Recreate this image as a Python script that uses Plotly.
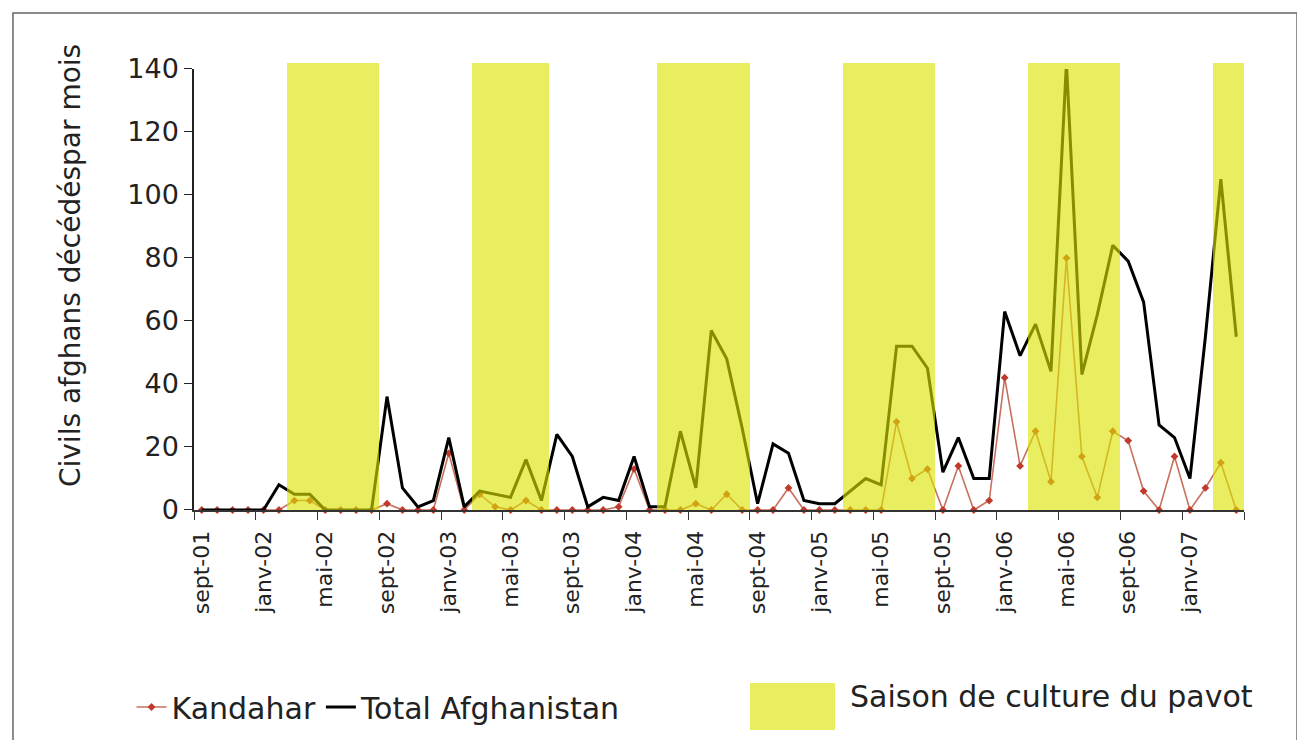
"""
Civils afghans décédés par mois : Kandahar vs total Afghanistan,
avec les saisons de culture du pavot en fond.
"""
import plotly.graph_objects as go

# --- Données ---

mois = [
    "sept-01", "oct-01", "nov-01", "déc-01",
    "janv-02", "févr-02", "mars-02", "avr-02", "mai-02", "juin-02", "juil-02", "août-02",
    "sept-02", "oct-02", "nov-02", "déc-02",
    "janv-03", "févr-03", "mars-03", "avr-03", "mai-03", "juin-03", "juil-03", "août-03",
    "sept-03", "oct-03", "nov-03", "déc-03",
    "janv-04", "févr-04", "mars-04", "avr-04", "mai-04", "juin-04", "juil-04", "août-04",
    "sept-04", "oct-04", "nov-04", "déc-04",
    "janv-05", "févr-05", "mars-05", "avr-05", "mai-05", "juin-05", "juil-05", "août-05",
    "sept-05", "oct-05", "nov-05", "déc-05",
    "janv-06", "févr-06", "mars-06", "avr-06", "mai-06", "juin-06", "juil-06", "août-06",
    "sept-06", "oct-06", "nov-06", "déc-06",
    "janv-07", "févr-07", "mars-07", "avr-07",
]

total_afghanistan = [
    0, 0, 0, 0,
    0, 8, 5, 5, 0, 0, 0, 0, 36, 7, 1, 3,
    23, 1, 6, 5, 4, 16, 3, 24, 17, 1, 4, 3,
    17, 1, 1, 25, 7, 57, 48, 26, 2, 21, 18, 3,
    2, 2, 6, 10, 8, 52, 52, 45, 12, 23, 10, 10,
    63, 49, 59, 44, 142, 43, 62, 84, 79, 66, 27, 23,
    10, 55, 105, 55,
]

kandahar = [
    0, 0, 0, 0,
    0, 0, 3, 3, 0, 0, 0, 0, 2, 0, 0, 0,
    18, 0, 5, 1, 0, 3, 0, 0, 0, 0, 0, 1,
    13, 0, 0, 0, 2, 0, 5, 0, 0, 0, 7, 0,
    0, 0, 0, 0, 0, 28, 10, 13, 0, 14, 0, 3,
    42, 14, 25, 9, 80, 17, 4, 25, 22, 6, 0, 17,
    0, 7, 15, 0,
]

# 1 = mois de la saison de culture du pavot
saison_pavot = [
    0, 0, 0, 0,
    0, 0, 1, 1, 1, 1, 1, 1, 0, 0, 0, 0,
    0, 0, 1, 1, 1, 1, 1, 0, 0, 0, 0, 0,
    0, 0, 1, 1, 1, 1, 1, 1, 0, 0, 0, 0,
    0, 0, 1, 1, 1, 1, 1, 1, 0, 0, 0, 0,
    0, 0, 1, 1, 1, 1, 1, 1, 0, 0, 0, 0,
    0, 0, 1, 1,
]

y_ticks = [0, 20, 40, 60, 80, 100, 120, 140]

# --- Style ---
FONT = "DejaVu Sans"
JAUNE = "rgb(220,228,0)"
OPACITE_JAUNE = 0.62
Y_MAX = 140
DOM_Y = 0.9866              # les bandes dépassent un peu le haut de l'axe
HAUT_BANDE = Y_MAX / DOM_Y

fig = go.Figure()

fig.add_trace(go.Scatter(
    x=mois, y=kandahar, name="Kandahar", mode="lines+markers",
    line=dict(color="#c8705e", width=1.6),
    marker=dict(symbol="diamond", size=6, color="#c0392b"),
    cliponaxis=False,
))
fig.add_trace(go.Scatter(
    x=mois, y=total_afghanistan, name="Total Afghanistan", mode="lines",
    line=dict(color="black", width=3),
))

# bandes jaunes en surimpression (sous-graphe dessiné au-dessus des courbes)
fig.add_trace(go.Bar(
    x=mois, y=[HAUT_BANDE if s else None for s in saison_pavot],
    xaxis="x2", yaxis="y2", width=1,
    marker=dict(color=JAUNE, line=dict(width=0)),
    opacity=OPACITE_JAUNE, showlegend=False, hoverinfo="skip",
))

fig.update_layout(
    width=1305, height=740,
    margin=dict(l=186, r=69, t=55, b=238),
    paper_bgcolor="white", plot_bgcolor="rgba(0,0,0,0)",
    font=dict(family=FONT, color="#222", size=22),
    bargap=0,
    showlegend=True,
    legend=dict(
        orientation="h", x=-0.0595, xanchor="left", y=-0.4407, yanchor="middle",
        font=dict(size=30, family=FONT), bgcolor="rgba(0,0,0,0)",
    ),
    xaxis=dict(
        type="category", categoryorder="array", categoryarray=mois,
        range=[-0.5, len(mois) - 0.5], anchor="y",
        tickmode="linear", tick0=0, dtick=4, tickson="boundaries",
        tickangle=-90, tickfont=dict(size=22), ticklabelstandoff=10,
        ticks="outside", ticklen=8, tickcolor="#333",
        showline=True, linecolor="#333", linewidth=2,
        showgrid=False, zeroline=False,
    ),
    yaxis=dict(
        domain=[0, DOM_Y], range=[0, Y_MAX], tickvals=y_ticks, anchor="x",
        tickfont=dict(size=27),
        ticks="outside", ticklen=8, tickcolor="#222",
        showline=True, linecolor="#222", linewidth=1.5,
        showgrid=False, zeroline=False,
    ),
    xaxis2=dict(
        type="category", categoryorder="array", categoryarray=mois,
        range=[-0.5, len(mois) - 0.5], anchor="y2", visible=False,
    ),
    yaxis2=dict(domain=[0, 1], range=[0, HAUT_BANDE], anchor="x2", visible=False),
)

# titre de l'axe Y (placé comme dans l'original, un peu au-dessus du centre)
fig.add_annotation(
    xref="paper", yref="paper", x=-0.1181, y=0.548, textangle=-90,
    text="Civils afghans décédéspar mois", showarrow=False,
    font=dict(size=28, family=FONT), xanchor="center", yanchor="middle",
)

# légende de la saison (grand carré jaune) + cadre du graphique
fig.add_shape(
    type="rect", xref="paper", yref="paper",
    x0=0.5295, x1=0.6105, y0=-0.492, y1=-0.387,
    fillcolor=JAUNE, opacity=OPACITE_JAUNE, line=dict(width=0),
)
fig.add_annotation(
    xref="paper", yref="paper", x=0.6229, y=-0.418, xanchor="left", yanchor="middle",
    text="Saison de culture du pavot", showarrow=False, font=dict(size=30, family=FONT),
)
fig.add_shape(
    type="rect", xref="paper", yref="paper",
    x0=-0.1724, x1=1.0505, y0=-0.6, y1=1.1119,
    line=dict(color="#666", width=1.5), fillcolor="rgba(0,0,0,0)",
)

fig.write_html("out.html")
